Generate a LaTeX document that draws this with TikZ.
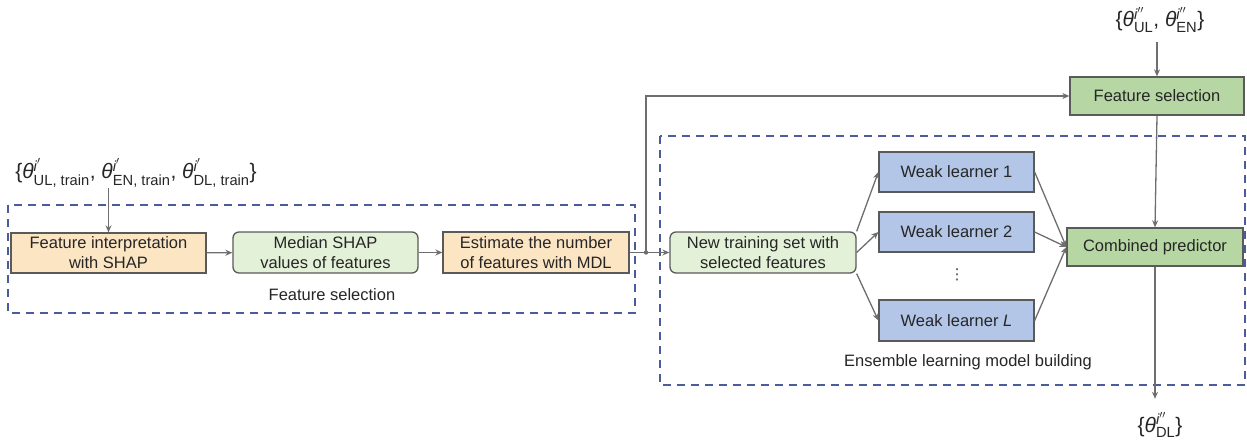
\documentclass[tikz,border=0pt]{standalone}
\usepackage{amsmath}
\usepackage{fontspec}
\setmainfont{Liberation Sans}
\newfontfamily\dejavu{DejaVu Sans}
\usetikzlibrary{arrows.meta}
\definecolor{orfill}{HTML}{FCE5C3}
\definecolor{lgfill}{HTML}{E3F1D9}
\definecolor{gfill}{HTML}{B6D7A3}
\definecolor{bfill}{HTML}{B3C6E7}
\definecolor{bord}{HTML}{5A5A5A}
\definecolor{navy}{HTML}{4B5C9C}
\definecolor{arrg}{HTML}{6E6E6E}
\tikzset{
  base/.style={draw=bord, line width=1.3pt, align=center, inner sep=0pt,
    font=\fontsize{16.5}{20}\selectfont, text=black!85},
  orbox/.style={base, fill=orfill},
  lgbox/.style={base, fill=lgfill, rounded corners=6pt},
  gbox/.style={base, fill=gfill},
  bbox/.style={base, fill=bfill},
  arr/.style={draw=arrg, line width=1.3pt, -{Stealth[length=7pt,width=6pt]}},
  dbox/.style={draw=navy, line width=1.5pt, dash pattern=on 8pt off 6pt},
  lab/.style={font=\fontsize{16.5}{20}\selectfont, text=black!85},
  mlab/.style={font=\fontsize{21}{24}\selectfont, text=black!85, inner sep=1pt}
}
\begin{document}
\begin{tikzpicture}[x=1pt,y=-1pt]
\useasboundingbox (0,0) rectangle (1247,441);
% dashed groups
\draw[dbox] (8,205) rectangle (635,313);
\draw[dbox] (660,136) rectangle (1245,385);
% nodes
\node[orbox, minimum width=195pt, minimum height=40pt] (b1) at (108.5,253) {Feature interpretation\\with SHAP};
\node[lgbox, minimum width=185pt, minimum height=41pt] (b2) at (325.5,252.5) {Median SHAP\\values of features};
\node[orbox, minimum width=186pt, minimum height=41pt] (b3) at (536,252.5) {Estimate the number\\of features with MDL};
\node[lgbox, minimum width=186pt, minimum height=41pt] (nt) at (763,252.5) {New training set with\\selected features};
\node[bbox, minimum width=155pt, minimum height=40pt] (w1) at (956.5,172) {Weak learner 1};
\node[bbox, minimum width=155pt, minimum height=40pt] (w2) at (956.5,232) {Weak learner 2};
\node[bbox, minimum width=155pt, minimum height=41pt] (wl) at (956.5,320.5) {Weak learner \textit{L}};
\node[font=\dejavu\fontsize{15}{15}\selectfont, text=black!75, inner sep=0pt] (dots) at (957,275) {⋮};
\node[gbox, minimum width=176pt, minimum height=38pt] (cp) at (1155,247) {Combined predictor};
\node[gbox, minimum width=174pt, minimum height=38pt] (fs) at (1157,96) {Feature selection};
\node[lab] (l1) at (332,295) {Feature selection};
\node[lab] (l2) at (968,362) {Ensemble learning model building};
% math labels
\node[mlab] (m1) at (136,173) {\{\textit{θ}$^{\text{\itshape i}'}_{\text{UL, train}}$, \textit{θ}$^{\text{\itshape i}'}_{\text{EN, train}}$, \textit{θ}$^{\text{\itshape i}'}_{\text{DL, train}}$\}};
\node[mlab] (m2) at (1160,20) {\{\textit{θ}$^{\text{\itshape i}''}_{\text{UL}}$, \textit{θ}$^{\text{\itshape i}''}_{\text{EN}}$\}};
\node[mlab] (m3) at (1160,425) {\{\textit{θ}$^{\text{\itshape i}''}_{\text{DL}}$\}};
\coordinate (j) at (646,252.5);
% connectors
\draw[arr] (b1.north |- m1.south) -- (b1.north);
\draw[arr] (b1) -- (b2);
\draw[arr] (b2) -- (b3);
\draw[arr] (b3) -- (nt);
\fill[arrg] (j) circle (2.2pt);
\draw[arr] (j) |- (fs.west);
\draw[arr] (nt.north east) -- (w1.west);
\draw[arr] (nt.east) -- (w2.west);
\draw[arr] (nt.south east) -- (wl.west);
\draw[arr] (w1.east) -- (cp.west);
\draw[arr] (w2.east) -- (cp.west);
\draw[arr] (wl.east) -- (cp.west);
\draw[arr, shorten <=8pt] (fs.north |- m2.south) -- (fs.north);
\draw[arr] (fs.south) -- (cp.north);
\draw[arr, shorten >=12pt] (cp.south) -- (cp.south |- m3.north);
\end{tikzpicture}
\end{document}
